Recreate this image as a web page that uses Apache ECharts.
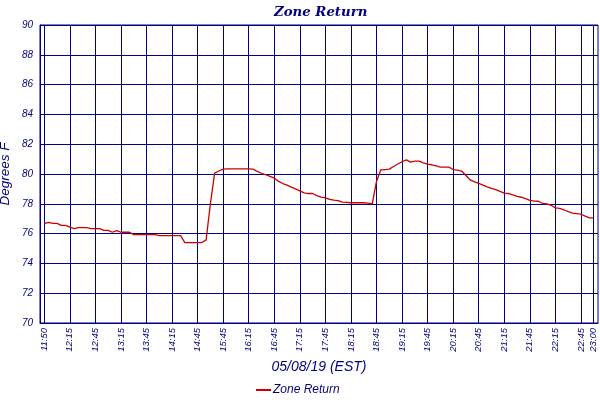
<!DOCTYPE html>
<html>
<head>
<meta charset="utf-8">
<script src="https://cdn.jsdelivr.net/npm/echarts@6/dist/echarts.min.js"></script>
<style>html,body{margin:0;padding:0;background:#fff}#c{width:600px;height:400px}</style>
</head>
<body>
<div id="c"></div>
<script>
// Tick labels shown along the time axis
const tickLabels = ['11:50','12:15','12:45','13:15','13:45','14:15','14:45','15:45','16:15','16:45','17:15','17:45','18:15','18:45','19:15','19:45','20:15','20:45','21:15','21:45','22:15','22:45','23:00'];
const samplesPerTick = 6;
// Zone Return temperature samples (deg F), one per sample slot from 11:50 to 23:00
const zoneReturn = [
  76.67,76.75,76.69,76.69,76.55,76.55,76.44,76.33,76.40,76.40,
  76.40,76.33,76.33,76.33,76.22,76.22,76.09,76.20,76.09,76.09,
  76.09,75.93,75.93,75.93,75.93,75.93,75.93,75.87,75.87,75.87,
  75.87,75.87,75.87,75.40,75.40,75.40,75.40,75.40,75.58,78.00,
  80.06,80.20,80.33,80.35,80.35,80.35,80.35,80.35,80.35,80.33,
  80.17,80.05,79.95,79.84,79.73,79.50,79.36,79.25,79.12,79.00,
  78.87,78.73,78.69,78.69,78.55,78.45,78.40,78.29,78.25,78.22,
  78.11,78.09,78.07,78.07,78.07,78.07,78.05,78.00,79.50,80.27,
  80.30,80.33,80.50,80.67,80.82,80.95,80.80,80.86,80.86,80.75,
  80.67,80.62,80.55,80.46,80.46,80.46,80.30,80.26,80.20,79.90,
  79.60,79.47,79.37,79.25,79.13,79.03,78.95,78.83,78.72,78.69,
  78.60,78.50,78.44,78.35,78.23,78.18,78.17,78.02,78.00,77.90,
  77.73,77.69,77.60,77.48,77.37,77.34,77.30,77.17,77.06,77.06
];
const yTicks = [70,72,74,76,78,80,82,84,86,88,90];

const navy = '#000080';
const n = zoneReturn.length;
const cats = [''];
for (let j = 0; j < n; j++) {
  let lab = '';
  if (j % samplesPerTick === 0 && j / samplesPerTick < tickLabels.length - 1) lab = tickLabels[j / samplesPerTick];
  if (j === n - 1) lab = tickLabels[tickLabels.length - 1];
  cats.push(lab);
}
cats.push(' ');
const data = [null].concat(zoneReturn).concat([null]);
const showTick = (i, v) => v !== '' && v !== ' ';

const chart = echarts.init(document.getElementById('c'), null, {renderer: 'canvas'});
chart.setOption({
  animation: false,
  backgroundColor: '#fff',
  title: {
    text: 'Zone Return',
    left: 269, top: 1,
    textStyle: {fontFamily: 'DejaVu Serif', fontStyle: 'italic', fontWeight: 'bold', fontSize: 13.3, color: navy}
  },
  grid: {left: 40, top: 25, right: 2, bottom: 77, show: true, borderColor: navy, borderWidth: 1, outerBoundsMode: 'none', containLabel: false},
  legend: {
    data: ['Zone Return'], left: 251, top: 379, icon: 'rect',
    itemWidth: 15, itemHeight: 2, itemGap: 2,
    textStyle: {fontFamily: 'Liberation Sans', fontStyle: 'italic', fontSize: 12, color: navy, padding: [0,0,0,-3]}
  },
  xAxis: {
    type: 'category', data: cats, boundaryGap: false,
    name: '05/08/19 (EST)', nameLocation: 'middle', nameGap: 37, nameMoveOverlap: false,
    nameTextStyle: {fontFamily: 'Liberation Sans', fontStyle: 'italic', fontSize: 14, color: navy},
    axisLine: {lineStyle: {color: navy, width: 1}},
    axisTick: {show: false},
    axisLabel: {interval: showTick, rotate: 90, margin: 5, fontFamily: 'Liberation Sans', fontStyle: 'italic', fontSize: 9.5, color: navy},
    splitLine: {show: true, interval: showTick, lineStyle: {color: navy, width: 1}}
  },
  yAxis: {
    type: 'value', min: yTicks[0], max: yTicks[yTicks.length - 1], interval: 2,
    name: 'Degrees F', nameLocation: 'middle', nameGap: 28, nameMoveOverlap: false,
    nameTextStyle: {fontFamily: 'Liberation Sans', fontStyle: 'italic', fontSize: 13.5, color: navy},
    axisLine: {show: true, lineStyle: {color: navy, width: 1}},
    axisTick: {show: false},
    axisLabel: {margin: 7, fontFamily: 'Liberation Sans', fontStyle: 'italic', fontSize: 10, color: navy},
    splitLine: {show: true, lineStyle: {color: navy, width: 1}}
  },
  series: [{
    name: 'Zone Return', type: 'line', data: data, symbol: 'none', showSymbol: false,
    connectNulls: false,
    lineStyle: {color: '#cc0000', width: 1.3},
    itemStyle: {color: '#cc0000'}
  }]
});
</script>
</body>
</html>
